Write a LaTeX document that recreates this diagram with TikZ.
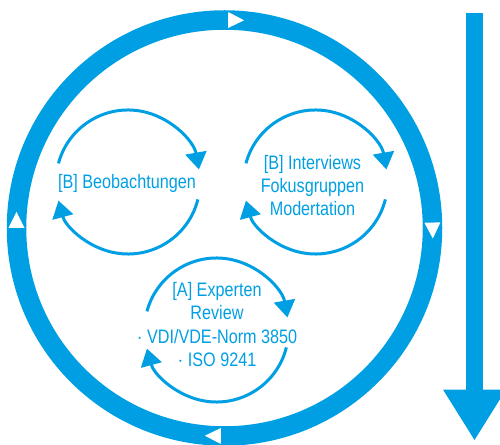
\documentclass[tikz,border=0pt]{standalone}
\usepackage{fontspec}
\setmainfont{Liberation Sans}[FakeStretch=0.83]
\usetikzlibrary{arrows.meta}
\definecolor{procblue}{RGB}{0,159,227}
\tikzstyle{ring} = [draw=procblue, line width=19.5pt]
\tikzstyle{notch} = [fill=white]
\tikzstyle{loopline} = [draw=procblue, line width=3pt,
    -{Triangle[width=21pt,length=17pt]}]
\tikzstyle{method} = [text=procblue, align=center, inner sep=0pt,
    font=\fontsize{19.5}{23.3}\selectfont]
\tikzstyle{flow} = [draw=procblue, line width=17.6pt,
    -{Triangle[width=59pt,length=51pt]}]

\begin{document}
\begin{tikzpicture}[x=1pt, y=1pt]
    \useasboundingbox (0,0) rectangle (500,444);
    % Outer ring with its notches
    \coordinate (ringc) at (224.5,216);
    \draw [ring] (ringc) circle [radius=208];
    \foreach \a in {89,1.5,269,180}
        \fill [notch, shift={(ringc)}, rotate=\a] (200,0) -- (216,0) -- (208,-16) -- cycle;
    % Place nodes
    \coordinate (c1) at (128,262);
    \coordinate (c2) at (315.5,262);
    \coordinate (c3) at (216.5,114);
    \node [method] (beob) at (127,261) {[B] Beobachtungen};
    \node [method] (intv) at (312.5,258.5) {[B] Interviews\\Fokusgruppen\\Modertation};
    \node [method] (expt) at (217,119.5) {[A] Experten\\Review\\$\cdot$ VDI/VDE-Norm 3850\\$\cdot$ ISO 9241};
    % Draw the small cycles
    \foreach \c in {c1,c2,c3} {
        \draw [loopline] ([shift={(165:72)}]\c) arc [start angle=165, end angle=10, radius=72];
        \draw [loopline] ([shift={(-14:72)}]\c) arc [start angle=-14, end angle=-165, radius=72];
    }
    % Process direction
    \coordinate (flowtop) at (474.5,430.7);
    \coordinate (flowend) at (474.5,3.3);
    \draw [flow] (flowtop) -- (flowend);
\end{tikzpicture}
\end{document}
